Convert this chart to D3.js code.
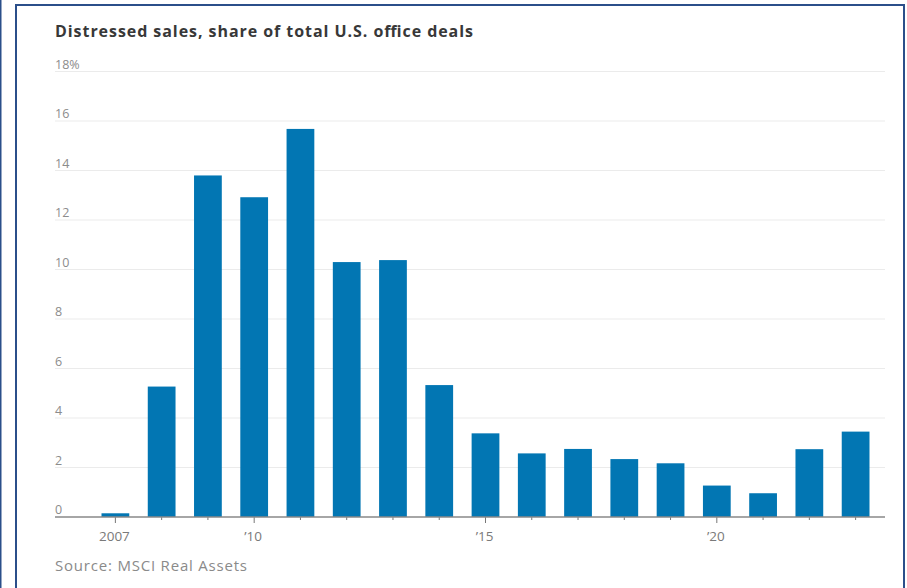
<!DOCTYPE html>
<html>
<head>
<meta charset="utf-8">
<script src="https://cdn.jsdelivr.net/npm/d3@7"></script>
<style>
  html, body { margin: 0; padding: 0; background: #fff; }
  svg { display: block; }
</style>
</head>
<body>
<svg id="chart" width="907" height="588"></svg>
<script>
const years = [2007, 2008, 2009, 2010, 2011, 2012, 2013, 2014, 2015, 2016, 2017, 2018, 2019, 2020, 2021, 2022, 2023];
const shares = [0.15, 5.27, 13.8, 12.92, 15.68, 10.3, 10.38, 5.33, 3.38, 2.57, 2.75, 2.34, 2.17, 1.27, 0.96, 2.74, 3.45];
const yTicks = [0, 2, 4, 6, 8, 10, 12, 14, 16, 18];
const xTickLabels = { 2007: "2007", 2010: "\u201910", 2015: "\u201915", 2020: "\u201920" };
const titleText = "Distressed sales, share of total U.S. office deals";
const sourceText = "Source: MSCI Real Assets";

(function () {
const svg = d3.select("#chart");
const font = "'Open Sans', 'Noto Sans', sans-serif";

// frame
svg.append("rect").attr("x", 0).attr("y", 0).attr("width", 1.5).attr("height", 588).attr("fill", "#2b4f8a");
svg.append("rect").attr("x", 16).attr("y", 5).attr("width", 888).attr("height", 600)
  .attr("fill", "none").attr("stroke", "#2b4f8a").attr("stroke-width", 2);

const mLeft = 55, mRight = 885, mTop = 71.5, mBottom = 517;

const y = d3.scaleLinear().domain([0, 18]).range([mBottom, mTop]);
const x = d3.scaleBand().domain(years).range([83, 888]).paddingInner(0.4).paddingOuter(0.4);

// gridlines
svg.append("g").selectAll("line").data(yTicks.filter(d => d > 0)).join("line")
  .attr("x1", mLeft).attr("x2", mRight)
  .attr("y1", d => y(d)).attr("y2", d => y(d))
  .attr("stroke", "#ebebeb").attr("stroke-width", 1.2);

// y labels
svg.append("g").selectAll("text").data(yTicks).join("text")
  .attr("x", mLeft).attr("y", d => y(d) - 3)
  .attr("font-family", font).attr("font-size", 12.5).attr("fill", "#8c8c8c")
  .text(d => d === 18 ? d + "%" : d);

// bars
svg.append("g").selectAll("rect").data(years).join("rect")
  .attr("x", d => x(d)).attr("width", x.bandwidth())
  .attr("y", (d, i) => y(shares[i]))
  .attr("height", (d, i) => mBottom - y(shares[i]))
  .attr("fill", "#0276b3");

// x axis
const xAxis = d3.axisBottom(x).tickSize(3).tickFormat("");
const gx = svg.append("g").attr("transform", `translate(0,${mBottom})`).call(xAxis);
gx.select(".domain").remove();
gx.selectAll(".tick line").attr("stroke", "#777")
  .attr("y2", d => xTickLabels[d] ? 6 : 3);
svg.append("line").attr("x1", mLeft).attr("x2", mRight).attr("y1", mBottom).attr("y2", mBottom)
  .attr("stroke", "#888").attr("stroke-width", 1.5);

svg.append("g").selectAll("text").data(years.filter(d => xTickLabels[d])).join("text")
  .attr("x", d => x(d) + x.bandwidth() / 2 - 1).attr("y", mBottom + 24)
  .attr("text-anchor", "middle")
  .attr("font-family", font).attr("font-size", 13.5).attr("fill", "#7a7a7a")
  .text(d => xTickLabels[d]);

// title
svg.append("text").attr("x", mLeft).attr("y", 37)
  .attr("font-family", font).attr("font-size", 16).attr("font-weight", "bold").attr("fill", "#383838")
  .attr("textLength", 418).attr("lengthAdjust", "spacing")
  .text(titleText);

// source
svg.append("text").attr("x", mLeft).attr("y", 571)
  .attr("font-family", font).attr("font-size", 15).attr("fill", "#8a8a8a")
  .attr("textLength", 192).attr("lengthAdjust", "spacing")
  .text(sourceText);
})();
</script>
</body>
</html>
